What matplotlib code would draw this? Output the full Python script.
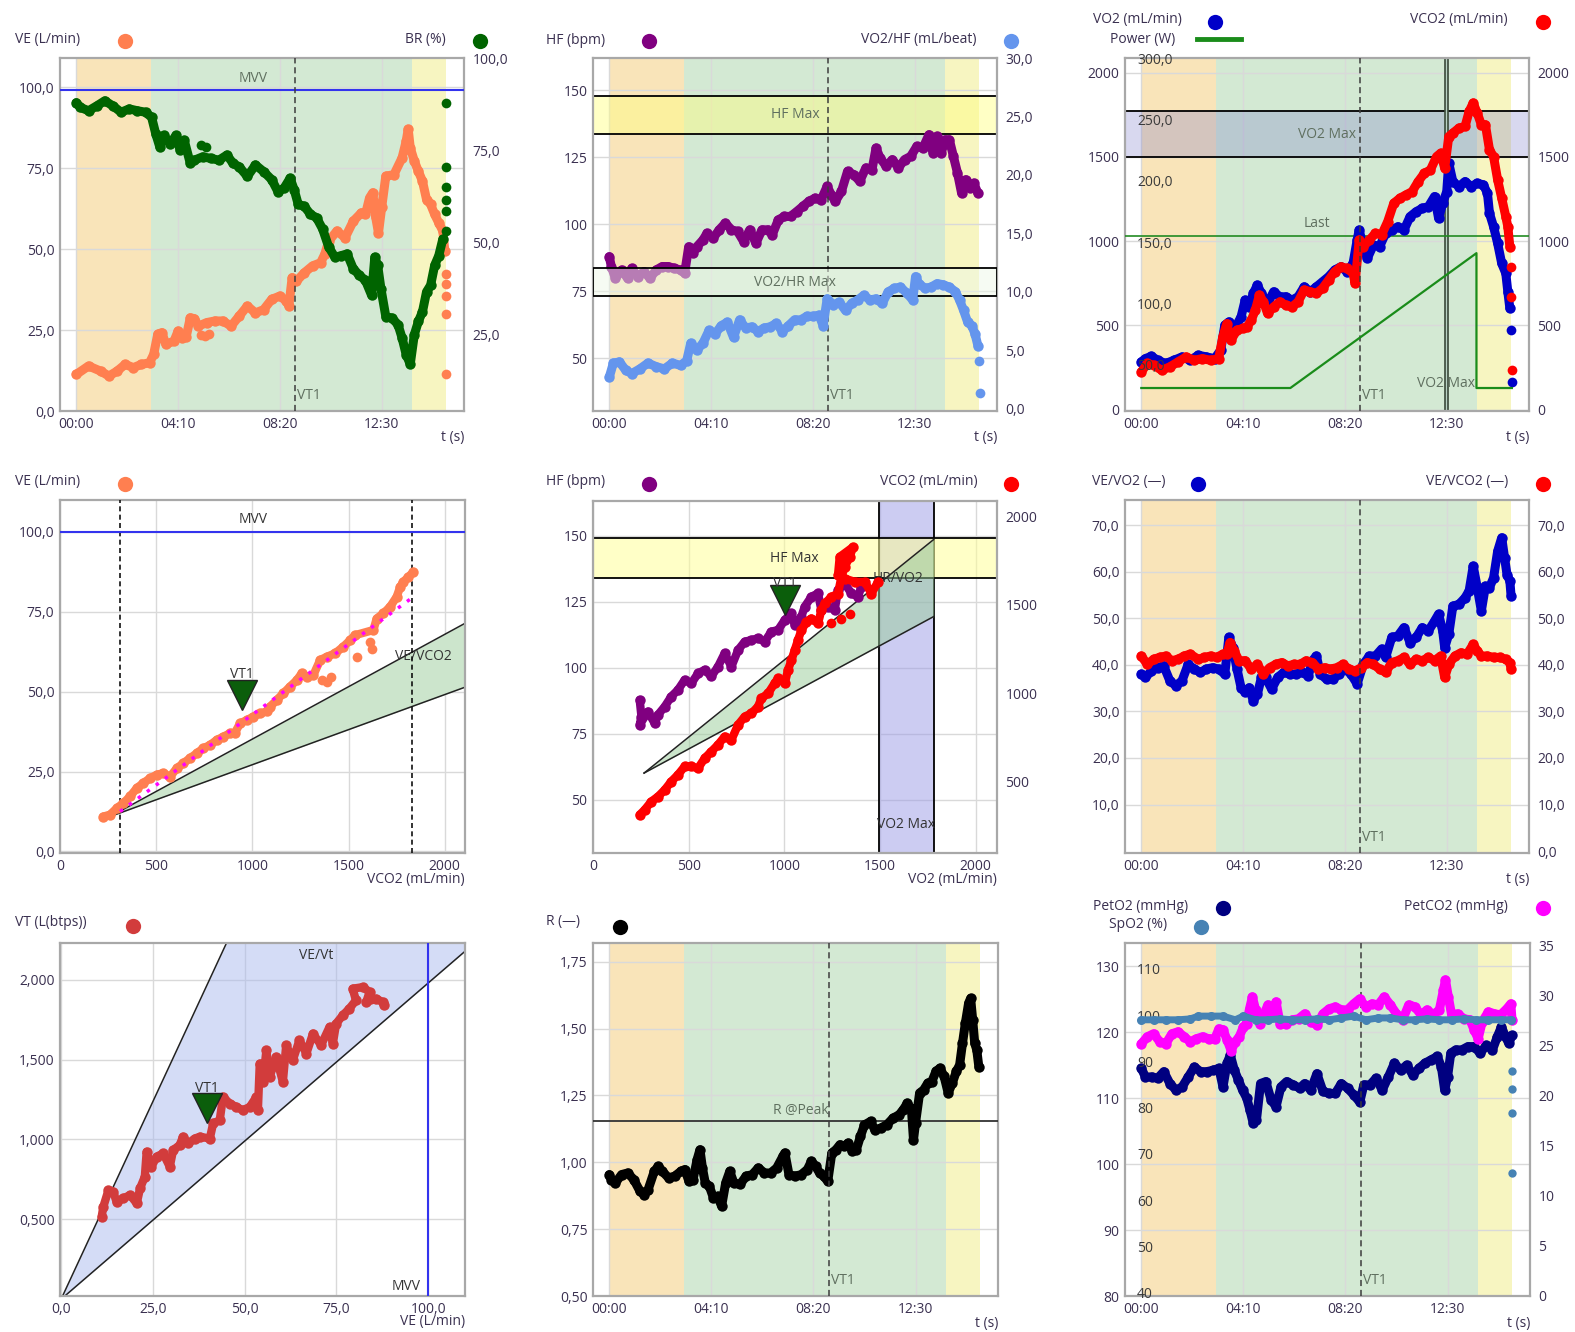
import matplotlib
matplotlib.use('Agg')
import matplotlib.pyplot as plt
from matplotlib.lines import Line2D
from matplotlib.colors import to_rgba
from matplotlib.transforms import blended_transform_factory

plt.rcParams['font.family'] = ['Open Sans', 'DejaVu Sans']

# ---------------------------------------------------------------- data
time_ticks = [0, 250, 500, 750]
time_labels = ['00:00', '04:10', '08:20', '12:30']
phase_spans = [(0, 184), (184, 825), (825, 908)]
phase_colors = ['#f9e4b9', '#d3e9d3', '#f7f5c1']
vt1_time = 537
mvv = 99.0

# panel 1: VE (L/min) and BR (%)
ve_pts = [(0, 11.3), (30, 13.9), (60, 12.3), (80, 10.8), (100, 12.3), (120, 14.4), (140, 13.4),
          (160, 14.4), (180, 14.9), (190, 17.5), (200, 23.7), (210, 24.2), (220, 20.6), (240, 21.6),
          (250, 24.7), (260, 22.6), (270, 23.0), (280, 28.8), (290, 28.5), (300, 26.2), (320, 27.3),
          (340, 27.8), (360, 27.8), (380, 26.2), (400, 29.3), (420, 32.4), (440, 30.3), (460, 31.3),
          (480, 34.5), (500, 35.5), (515, 34.0), (522, 32.5), (530, 41.2), (540, 40.0), (560, 42.7),
          (580, 44.8), (600, 45.8), (610, 48.4), (620, 52.5), (640, 55.6), (660, 53.5), (680, 58.6),
          (700, 61.2), (710, 60.7), (720, 65.8), (728, 67.4), (735, 60.0), (742, 55.0), (750, 63.0),
          (760, 72.5), (780, 73.0), (800, 78.2), (810, 83.3), (815, 87.0), (820, 81.3), (830, 77.2),
          (840, 74.0), (850, 71.0), (860, 65.3), (870, 63.8), (880, 60.7), (890, 58.1), (900, 55.6),
          (905, 49.4)]
ve_extra = [(305, 23.5), (315, 23.2), (325, 23.7), (908, 42.2), (908, 39.1), (908, 35.5),
            (908, 29.8), (908, 11.3)]
br_pts = [(0, 87.9), (10, 86.6), (30, 85.7), (50, 87.0), (70, 88.4), (90, 87.0), (110, 85.3),
          (130, 86.2), (150, 85.7), (170, 85.3), (185, 83.9), (195, 79.5), (205, 75.9), (215, 79.0),
          (230, 76.8), (245, 79.0), (255, 75.0), (265, 77.7), (280, 71.4), (290, 72.3), (310, 73.2),
          (330, 72.8), (350, 72.3), (370, 73.7), (385, 71.4), (400, 70.5), (420, 67.9), (440, 71.0),
          (460, 69.2), (480, 67.0), (495, 63.8), (510, 64.7), (525, 67.4), (535, 64.3), (545, 60.3),
          (560, 59.8), (575, 57.6), (590, 56.7), (605, 53.6), (620, 48.7), (635, 46.0), (650, 46.4),
          (665, 46.9), (680, 42.9), (695, 41.1), (710, 39.7), (725, 35.7), (733, 46.0), (740, 43.8),
          (748, 37.5), (760, 29.9), (775, 29.5), (790, 27.7), (800, 24.1), (810, 19.6), (820, 17.0),
          (830, 25.0), (840, 28.6), (850, 31.2), (860, 36.6), (870, 38.4), (880, 43.8), (890, 46.4),
          (900, 50.9)]
br_extra = [(305, 76.3), (318, 76.0), (908, 53.1), (908, 58.5), (908, 61.6), (908, 65.0),
            (908, 70.4), (908, 87.9)]

# panel 2: HF (bpm) and VO2/HF (mL/beat)
hr_pts = [(0, 87.9), (5, 84.2), (15, 79.8), (30, 82.9), (45, 79.8), (55, 83.5), (70, 80.4),
          (85, 82.3), (100, 79.8), (115, 82.9), (130, 84.2), (145, 84.2), (160, 83.5), (175, 82.9),
          (185, 81.7), (195, 91.6), (205, 89.2), (215, 91.6), (230, 94.1), (240, 96.6), (255, 94.8),
          (270, 97.9), (285, 100.4), (300, 97.9), (315, 97.3), (330, 93.5), (345, 97.9), (360, 92.9),
          (375, 97.9), (390, 97.9), (400, 96.0), (415, 101.6), (430, 102.9), (445, 102.9),
          (460, 104.7), (475, 106.6), (490, 108.5), (505, 109.7), (520, 109.1), (535, 114.1),
          (545, 111.0), (555, 108.5), (570, 112.2), (585, 119.7), (600, 118.5), (615, 116.0),
          (630, 121.0), (645, 120.3), (655, 128.4), (665, 124.7), (680, 121.6), (695, 124.1),
          (710, 121.0), (725, 124.1), (740, 125.3), (755, 129.0), (770, 128.4), (785, 133.4),
          (795, 126.6), (805, 132.8), (815, 126.6), (825, 131.5), (835, 131.5), (845, 125.3),
          (855, 119.1), (865, 111.6), (875, 116.6), (885, 113.5), (895, 115.3), (905, 111.6)]
pulse_pts = [(0, 2.7), (10, 3.9), (25, 4.0), (40, 3.3), (55, 3.0), (75, 3.4), (95, 3.9), (115, 3.6),
             (135, 3.4), (155, 3.9), (175, 3.7), (190, 4.1), (200, 5.6), (215, 5.0), (230, 5.6),
             (245, 6.7), (260, 6.4), (275, 7.1), (290, 7.4), (305, 6.1), (320, 7.6), (335, 6.9),
             (350, 7.0), (365, 6.6), (380, 6.9), (395, 7.0), (410, 7.3), (425, 6.6), (440, 7.1),
             (455, 7.6), (470, 7.6), (485, 7.9), (500, 7.9), (515, 8.0), (525, 7.1), (535, 9.4),
             (550, 8.9), (565, 9.1), (580, 8.4), (595, 9.0), (610, 9.3), (625, 9.7), (640, 9.3),
             (655, 9.4), (670, 9.0), (685, 10.0), (700, 10.3), (715, 10.4), (730, 9.9), (745, 9.3),
             (752, 11.3), (760, 10.7), (775, 10.3), (790, 10.4), (805, 10.7), (820, 10.6),
             (835, 10.4), (850, 10.0), (860, 9.3), (870, 8.4), (880, 7.4), (890, 7.1), (898, 6.4),
             (905, 5.4)]
pulse_extra = [(908, 4.1), (910, 1.3)]
hf_max_band = (133.5, 147.8)
pulse_max_band = (9.6, 12.0)

# panel 3: VO2 / VCO2 (mL/min), power (W)
vo2_pts = [(0, 283), (10, 303), (25, 317), (40, 293), (60, 274), (80, 293), (100, 313), (120, 293),
           (140, 323), (160, 313), (180, 303), (195, 353), (205, 501), (215, 521), (230, 482),
           (245, 551), (255, 650), (265, 610), (275, 690), (285, 739), (295, 690), (310, 630),
           (325, 700), (340, 670), (355, 670), (370, 650), (385, 670), (400, 729), (415, 700),
           (430, 729), (445, 759), (460, 789), (475, 829), (490, 848), (505, 819), (520, 868),
           (530, 1007), (535, 1066), (545, 967), (555, 898), (570, 977), (585, 967), (600, 1047),
           (615, 1066), (630, 1086), (645, 1066), (660, 1146), (675, 1175), (690, 1195),
           (705, 1205), (720, 1265), (730, 1136), (740, 1225), (750, 1294), (755, 1463),
           (765, 1354), (780, 1324), (795, 1354), (810, 1324), (825, 1344), (840, 1334),
           (850, 1284), (855, 1165), (865, 1086), (875, 987), (885, 868), (895, 809), (900, 700),
           (905, 601)]
vo2_extra = [(908, 472), (910, 165)]
vco2_pts = [(0, 224), (15, 274), (30, 264), (50, 234), (70, 254), (90, 283), (110, 313), (130, 293),
            (150, 303), (170, 293), (190, 303), (200, 432), (210, 511), (220, 412), (235, 472),
            (250, 482), (260, 492), (270, 531), (280, 591), (290, 680), (300, 640), (310, 571),
            (325, 610), (340, 640), (355, 620), (370, 610), (385, 640), (400, 710), (415, 700),
            (430, 690), (445, 720), (460, 769), (475, 819), (490, 848), (505, 838), (520, 809),
            (525, 749), (535, 1007), (545, 967), (560, 1007), (575, 1047), (590, 1037),
            (605, 1116), (620, 1225), (635, 1255), (650, 1275), (665, 1294), (680, 1354),
            (695, 1403), (710, 1423), (725, 1502), (735, 1522), (745, 1433), (755, 1621),
            (765, 1641), (780, 1671), (795, 1681), (805, 1770), (815, 1820), (825, 1760),
            (835, 1691), (845, 1691), (855, 1542), (865, 1502), (875, 1364), (885, 1255),
            (895, 1146), (900, 1086), (905, 967)]
vco2_extra = [(907, 848), (908, 670), (910, 234)]
power_t = [0, 366, 823, 823, 910]
power_w = [30.6, 30.6, 140.9, 30.6, 30.6]
vo2_max_band = (1498, 1774)
vo2_last = 1033
vo2_max_time = (746, 753)

# panel 4: VE vs VCO2
vevco2_scatter = [(225, 10.9), (260, 11.5), (295, 13.5), (329, 15.1), (364, 17.2), (399, 19.8),
                  (433, 21.4), (468, 22.9), (503, 24.0), (537, 24.5), (572, 23.4), (607, 26.0),
                  (641, 27.6), (676, 29.2), (711, 30.7), (745, 32.3), (780, 33.3), (815, 34.9),
                  (849, 35.9), (884, 37.0), (910, 37.2), (936, 40.1), (971, 41.1), (1005, 42.2),
                  (1040, 43.2), (1075, 43.8), (1092, 45.3), (1127, 47.4), (1161, 49.5),
                  (1196, 51.6), (1231, 53.6), (1256, 55.7), (1282, 54.7), (1317, 55.2),
                  (1352, 59.9), (1386, 60.9), (1430, 62.0), (1473, 64.1), (1508, 66.1),
                  (1534, 67.7), (1629, 69.3), (1646, 72.9), (1681, 74.5), (1716, 76.6),
                  (1750, 79.7), (1768, 82.8), (1785, 84.4), (1811, 85.9), (1837, 87.5)]
vevco2_scatter_extra = [(1360, 53.6), (1390, 53.0), (1410, 54.5), (1542, 60.9), (1612, 65.6),
                        (1620, 63.5)]
vevco2_fit_x = [312, 1837]
vevco2_fit_y = [12.5, 79.7]
vevco2_ref_x = [260, 2105]
vevco2_ref_hi = [10.9, 71.4]
vevco2_ref_lo = [10.9, 51.4]
vco2_limits = [312, 1828]
vt1_p4 = (948, 49.0)

# panel 5: HF and VCO2 vs VO2
hr_vo2 = [(244, 87.8), (253, 81.5), (244, 78.4), (287, 83.4), (322, 79.0), (340, 82.2), (375, 85.3),
          (409, 89.1), (444, 91.6), (479, 95.4), (514, 94.1), (549, 97.9), (584, 99.2), (618, 96.7),
          (653, 100.4), (688, 105.5), (723, 100.4), (758, 106.7), (793, 109.9), (828, 110.5),
          (862, 111.2), (897, 109.9), (932, 113.7), (967, 114.3), (1002, 118.1), (1037, 120.6),
          (1054, 116.2), (1089, 119.4), (1106, 123.1), (1141, 126.9), (1176, 128.2),
          (1193, 121.9), (1228, 123.1), (1263, 121.9), (1280, 129.4), (1315, 132.0),
          (1350, 128.2), (1385, 126.9), (1402, 130.7)]
vco2_vo2 = [(244, 312), (270, 340), (305, 387), (340, 415), (375, 453), (409, 500), (444, 538),
            (479, 585), (514, 585), (549, 575), (584, 632), (618, 669), (653, 707), (688, 754),
            (723, 735), (758, 820), (793, 867), (828, 885), (862, 923), (880, 970), (915, 998),
            (949, 1055), (967, 1083), (1002, 1055), (1019, 1130), (1037, 1186), (1054, 1242),
            (1071, 1299), (1089, 1355), (1115, 1402), (1141, 1421), (1176, 1393), (1193, 1468),
            (1211, 1506), (1246, 1543), (1280, 1562), (1298, 1656), (1315, 1712), (1341, 1769),
            (1359, 1825), (1289, 1769), (1280, 1665), (1315, 1647), (1368, 1628), (1420, 1628),
            (1455, 1562), (1489, 1628)]
vco2_vo2_extra = [(1246, 1393), (1298, 1421), (1341, 1449)]
hrvo2_ref_x = [267, 1780]
hrvo2_ref_hi = [60.1, 148.6]
hrvo2_ref_lo = [60.1, 119.4]
hf_max_band_p5 = (133.9, 149.0)
vo2_max_span = (1495, 1780)
vt1_p5 = (1002, 125.7)

# panel 6: VE/VO2 and VE/VCO2
vevo2_pts = [(0, 38.0), (10, 37.3), (25, 38.7), (40, 39.4), (55, 39.8), (70, 36.6), (85, 35.5),
             (100, 36.6), (115, 40.1), (130, 39.1), (145, 38.4), (160, 39.1), (175, 39.4),
             (190, 39.1), (205, 38.0), (215, 45.9), (225, 43.7), (235, 39.1), (245, 35.1),
             (255, 34.1), (265, 35.1), (275, 32.3), (285, 33.7), (295, 37.3), (305, 37.3),
             (320, 34.8), (335, 37.3), (350, 38.4), (365, 38.0), (380, 38.0), (395, 38.4),
             (410, 37.6), (420, 40.9), (430, 41.9), (440, 38.0), (455, 36.9), (470, 36.9),
             (485, 38.0), (500, 39.1), (515, 38.0), (530, 35.9), (545, 40.1), (560, 41.9),
             (575, 41.9), (590, 43.4), (600, 41.6), (615, 45.9), (630, 46.2), (645, 48.0),
             (660, 44.8), (675, 45.9), (690, 48.0), (705, 47.3), (720, 49.4), (730, 50.9),
             (740, 47.3), (745, 43.7), (755, 46.6), (765, 52.6), (780, 53.0), (795, 54.4),
             (805, 55.9), (815, 61.2), (825, 56.6), (835, 51.6), (845, 56.9), (855, 56.6),
             (865, 58.7), (875, 64.4), (885, 67.3), (892, 63.0), (898, 59.4), (905, 58.0),
             (908, 54.8)]
vevco2_pts = [(0, 41.9), (15, 40.1), (30, 41.2), (45, 41.6), (60, 41.9), (75, 40.9), (90, 41.2),
              (105, 41.9), (120, 42.3), (140, 41.2), (155, 41.6), (170, 41.9), (185, 41.6),
              (200, 42.3), (210, 42.3), (218, 44.8), (228, 43.0), (240, 40.9), (255, 40.9),
              (270, 39.1), (285, 40.1), (300, 38.0), (315, 39.4), (330, 40.1), (345, 40.5),
              (360, 39.8), (375, 40.1), (390, 40.1), (405, 40.9), (420, 40.5), (435, 39.1),
              (450, 39.4), (465, 39.1), (480, 39.4), (495, 40.1), (510, 39.1), (525, 38.7),
              (540, 39.4), (555, 40.5), (570, 40.1), (585, 39.1), (600, 38.4), (615, 40.5),
              (630, 40.9), (645, 41.6), (660, 40.1), (675, 41.2), (690, 40.9), (705, 41.6),
              (720, 40.9), (735, 41.9), (745, 37.3), (755, 40.1), (770, 41.9), (785, 42.6),
              (800, 42.3), (815, 44.4), (825, 43.0), (835, 41.9), (850, 41.9), (865, 41.6),
              (880, 41.6), (895, 41.2), (905, 40.5), (908, 39.1)]

# panel 7: VT vs VE
vt_ve = [(11.05, 0.517), (11.5, 0.579), (12.9, 0.683), (14.2, 0.673), (15.1, 0.610), (16.9, 0.631),
         (18.8, 0.652), (20.6, 0.600), (21.5, 0.694), (22.8, 0.767), (23.3, 0.923), (24.6, 0.829),
         (26.0, 0.892), (27.8, 0.913), (29.6, 0.829), (30.5, 0.933), (32.3, 0.965), (33.2, 1.017),
         (34.6, 0.975), (36.4, 1.006), (37.8, 1.017), (40.5, 1.006), (41.4, 1.100), (43.2, 1.121),
         (44.1, 1.267), (45.9, 1.225), (47.7, 1.204), (49.5, 1.183), (51.4, 1.204), (53.2, 1.267),
         (53.6, 1.183), (54.1, 1.475), (55.0, 1.360), (55.9, 1.558), (56.8, 1.392), (58.6, 1.517),
         (60.4, 1.360), (61.3, 1.590), (63.1, 1.496), (64.9, 1.621), (66.8, 1.538), (68.6, 1.663),
         (70.8, 1.590), (73.1, 1.704), (74.0, 1.600), (74.9, 1.725), (76.7, 1.777), (78.5, 1.819),
         (80.3, 1.871), (79.4, 1.944), (82.2, 1.954), (84.0, 1.923), (83.1, 1.860), (85.8, 1.881),
         (87.6, 1.860), (88.0, 1.840)]
vevt_slope_hi = 0.0495
vevt_slope_lo = 0.0198
vevt_x = [0, 110]
vt1_p7 = (39.8, 1.20)

# panel 8: R
r_pts = [(0, 0.954), (5, 0.935), (15, 0.923), (30, 0.954), (45, 0.960), (60, 0.935), (75, 0.892),
         (85, 0.879), (95, 0.898), (110, 0.966), (120, 0.985), (130, 0.966), (145, 0.942),
         (160, 0.948), (175, 0.966), (185, 0.973), (195, 0.929), (205, 0.935), (215, 1.010),
         (222, 1.047), (228, 0.979), (235, 0.923), (245, 0.910), (255, 0.867), (265, 0.873),
         (275, 0.836), (285, 0.923), (295, 0.966), (305, 0.923), (320, 0.917), (335, 0.948),
         (350, 0.954), (365, 0.979), (380, 0.960), (395, 0.960), (410, 0.979), (425, 1.022),
         (430, 1.035), (440, 0.954), (455, 0.948), (470, 0.954), (485, 0.973), (495, 1.004),
         (505, 0.985), (515, 0.960), (525, 0.948), (535, 0.929), (545, 1.035), (555, 1.047),
         (565, 1.066), (575, 1.060), (585, 1.072), (595, 1.041), (605, 1.047), (615, 1.097),
         (625, 1.140), (640, 1.153), (650, 1.122), (665, 1.128), (680, 1.141), (695, 1.165),
         (710, 1.178), (720, 1.197), (730, 1.221), (740, 1.197), (745, 1.085), (750, 1.147),
         (760, 1.259), (770, 1.271), (780, 1.296), (790, 1.302), (800, 1.340), (810, 1.352),
         (820, 1.321), (830, 1.259), (840, 1.296), (850, 1.340), (858, 1.364), (865, 1.445),
         (872, 1.520), (880, 1.595), (885, 1.613), (890, 1.532), (895, 1.445), (900, 1.420),
         (905, 1.358)]
r_peak = 1.155

# panel 9: PetO2, SpO2, PetCO2
peto2_pts = [(0, 114.5), (10, 113.2), (25, 113.2), (40, 113.0), (55, 114.0), (70, 112.2),
             (85, 111.2), (100, 111.7), (115, 113.2), (130, 114.7), (145, 114.0), (160, 114.0),
             (175, 114.2), (190, 114.5), (200, 111.7), (210, 115.3), (218, 116.5), (228, 114.2),
             (238, 112.7), (248, 111.2), (258, 110.0), (266, 108.2), (274, 106.2), (282, 106.7),
             (292, 112.2), (305, 112.5), (318, 109.7), (330, 108.7), (342, 111.7), (356, 112.5),
             (372, 112.0), (388, 111.5), (400, 112.2), (415, 111.2), (430, 113.7), (445, 111.0),
             (460, 110.7), (475, 110.7), (490, 112.2), (505, 111.5), (520, 110.5), (535, 109.4),
             (545, 112.0), (560, 112.0), (575, 113.0), (590, 111.2), (605, 113.2), (620, 115.3),
             (635, 114.2), (650, 115.0), (665, 113.5), (680, 114.5), (695, 115.3), (710, 115.8),
             (725, 116.3), (735, 114.7), (743, 111.2), (750, 113.2), (758, 116.8), (770, 117.3),
             (785, 117.3), (800, 117.8), (815, 117.8), (830, 116.8), (845, 118.0), (860, 117.3),
             (872, 119.3), (882, 120.8), (892, 119.3), (900, 118.3), (908, 119.5)]
spo2_pts = [(0, 99.0), (30, 99.0), (60, 99.0), (90, 99.0), (120, 99.2), (140, 99.8), (170, 99.8),
            (200, 99.8), (230, 99.0), (250, 99.8), (280, 99.0), (310, 99.0), (340, 99.2),
            (370, 99.0), (400, 99.0), (430, 99.2), (460, 99.0), (490, 99.4), (520, 99.8),
            (550, 99.0), (580, 99.4), (610, 99.4), (640, 99.0), (670, 99.0), (700, 99.2),
            (730, 99.0), (760, 99.0), (790, 99.2), (820, 99.0), (850, 99.0), (880, 99.0),
            (905, 99.0)]
spo2_extra = [(908, 87.9), (908, 84.0), (908, 78.9), (909, 65.8)]
petco2_pts = [(0, 25.2), (15, 25.9), (30, 26.2), (45, 25.4), (60, 25.2), (75, 26.2), (90, 26.4),
              (105, 25.9), (120, 25.4), (135, 25.7), (150, 25.9), (165, 25.7), (180, 25.7),
              (190, 26.7), (200, 26.6), (210, 25.6), (220, 24.5), (230, 25.4), (240, 25.9),
              (250, 26.9), (258, 27.2), (265, 28.7), (272, 29.9), (280, 28.6), (290, 27.2),
              (300, 28.1), (310, 29.1), (320, 28.1), (330, 29.4), (340, 27.2), (355, 27.2),
              (370, 27.6), (385, 27.7), (400, 28.2), (415, 27.4), (430, 27.1), (445, 28.2),
              (460, 28.7), (475, 28.9), (490, 28.6), (505, 28.6), (520, 29.2), (535, 29.7),
              (550, 28.9), (565, 29.2), (580, 29.1), (595, 29.9), (610, 29.1), (625, 28.2),
              (640, 27.6), (655, 29.1), (670, 28.9), (685, 28.1), (700, 28.6), (715, 28.1),
              (730, 28.6), (740, 30.6), (745, 31.6), (752, 29.9), (760, 28.1), (775, 28.2),
              (790, 27.7), (805, 27.6), (815, 26.6), (825, 25.7), (835, 27.4), (850, 28.4),
              (865, 28.2), (880, 28.1), (895, 28.7), (905, 29.2), (908, 27.6)]

# ---------------------------------------------------------------- styling
W, H = 1575, 1332
FRAME = '#a8a8a8'
GRID = '#d9d9d9'
TXT = '#3a3050'
NOTE = '#5f6f5f'
FS = 10
MS = 7.5     # dot size of the data bands
LW = 6.5     # line joining the dots

fig = plt.figure(figsize=(W / 100, H / 100), dpi=100)


def rect(l, t, r, b):
    return [l / W, 1 - b / H, (r - l) / W, (b - t) / H]


def base_style(ax):
    ax.set_axisbelow(True)
    for s in ax.spines.values():
        s.set_color(FRAME)
        s.set_linewidth(1.6)
    ax.tick_params(length=0, labelsize=FS, labelcolor=TXT, pad=4)
    ax.grid(True, color=GRID, lw=1)


def twin_axis(ax, ylim, ticks, labels, inner=False):
    tw = ax.twinx()
    tw.set_ylim(*ylim)
    tw.set_yticks(ticks)
    tw.set_yticklabels(labels)
    for s in tw.spines.values():
        s.set_visible(False)
    tw.tick_params(length=0, labelsize=FS, labelcolor=TXT, pad=6)
    if inner:
        tw.spines['right'].set_position(('axes', 0.03))
        tw.tick_params(pad=0, labelcolor='#3a3a3a')
    return tw


def set_y(ax, ylim, ticks, labels):
    ax.set_ylim(*ylim)
    ax.set_yticks(ticks)
    ax.set_yticklabels(labels)


def time_panel(box):
    ax = fig.add_axes(rect(*box))
    base_style(ax)
    ax.set_xlim(-40, 952)
    ax.set_xticks(time_ticks)
    ax.set_xticklabels(time_labels)
    for (a, b), c in zip(phase_spans, phase_colors):
        ax.axvspan(a, b, color=c, lw=0, zorder=0)
    ax.axvline(vt1_time, color='#3c3c3c', lw=1.1, ls=(0, (4, 2.5)), zorder=6)
    tr = blended_transform_factory(ax.transData, ax.transAxes)
    ax.text(vt1_time + 6, 0.035, 'VT1', transform=tr, color=NOTE, fontsize=FS, zorder=6)
    fig.text(box[2] / W, 1 - (box[3] + 27) / H, 't (s)', ha='right', va='center',
             fontsize=FS, color=TXT)
    return ax


def series(ax, pts, color, extra=None, ms=MS, lw=LW, z=4):
    x, y = zip(*pts)
    ax.plot(x, y, '-o', color=color, ms=ms, lw=lw, mew=0, zorder=z,
            solid_joinstyle='round', solid_capstyle='round')
    if extra:
        ex, ey = zip(*extra)
        ax.plot(ex, ey, 'o', color=color, ms=ms - 0.5, mew=0, zorder=z)


def head(x, y, text, ha='left'):
    fig.text(x / W, 1 - y / H, text, ha=ha, va='center', fontsize=FS, color=TXT)


def head_dot(x, y, color):
    fig.add_artist(Line2D([x / W], [1 - y / H], marker='o', ms=11, color=color, ls='none',
                          mew=0, transform=fig.transFigure))


def vt1_marker(ax, pos, dy):
    ax.plot([pos[0]], [pos[1]], marker='v', ms=22, mfc='#0b5e0b', mec='#222222', mew=1,
            ls='none', zorder=8)
    ax.text(pos[0], pos[1] + dy, 'VT1', ha='center', va='bottom', fontsize=FS, color='#333333',
            zorder=8)


def fmt(vals, dec):
    return [('%.*f' % (dec, v)).replace('.', ',') for v in vals]


# ---------------------------------------------------------------- panel 1
ax1 = time_panel((60, 58, 464, 411))
set_y(ax1, (0, 109), [0, 25, 50, 75, 100], fmt([0, 25, 50, 75, 100], 1))
ax1.axhline(mvv, color='#3333ee', lw=1.5, zorder=5)
ax1.text(434, mvv + 1.5, 'MVV', ha='center', va='bottom', fontsize=FS, color=NOTE)
series(ax1, ve_pts, '#ff7f50', ve_extra)
ax1b = twin_axis(ax1, (4.3, 100), [25, 50, 75, 100], fmt([25, 50, 75, 100], 1))
series(ax1b, br_pts, '#006400', br_extra)
head(15, 40, 'VE (L/min)')
head_dot(125, 41, '#ff7f50')
head(446, 40, 'BR (%)', ha='right')
head_dot(480, 41, '#006400')

# ---------------------------------------------------------------- panel 2
ax2 = time_panel((593, 58, 997, 411))
set_y(ax2, (30.3, 162), [50, 75, 100, 125, 150], ['50', '75', '100', '125', '150'])
ax2.axhspan(*hf_max_band, facecolor=to_rgba('#ffff80', 0.45), edgecolor='black', lw=1.3, zorder=1)
ax2.text(457, 140.9, 'HF Max', ha='center', va='center', fontsize=FS, color=NOTE, zorder=2)
series(ax2, hr_pts, '#800080')
ax2b = twin_axis(ax2, (-0.2, 30), [0, 5, 10, 15, 20, 25, 30], fmt([0, 5, 10, 15, 20, 25, 30], 1))
ax2b.axhspan(*pulse_max_band, facecolor=to_rgba('#eef8e8', 0.5), edgecolor='black', lw=1.3,
             zorder=1)
ax2b.text(457, 10.8, 'VO2/HR Max', ha='center', va='center', fontsize=FS, color=NOTE, zorder=2)
series(ax2b, pulse_pts, '#6495ed', pulse_extra)
head(546, 40, 'HF (bpm)')
head_dot(649, 41, '#800080')
head(977, 40, 'VO2/HF (mL/beat)', ha='right')
head_dot(1011, 41, '#6495ed')

# ---------------------------------------------------------------- panel 3
ax3 = time_panel((1125, 58, 1529, 411))
vo2_ticks = [0, 500, 1000, 1500, 2000]
set_y(ax3, (-8, 2087), vo2_ticks, [str(v) for v in vo2_ticks])
ax3.axhspan(*vo2_max_band, facecolor=to_rgba('#8080cc', 0.3), edgecolor='black', lw=1.3, zorder=1)
ax3.text(456, 1631, 'VO2 Max', ha='center', va='center', fontsize=FS, color=NOTE, zorder=2)
ax3.axvspan(*vo2_max_time, facecolor='#b9d2c4', edgecolor='#3a4a3a', lw=1.2, zorder=2)
ax3.text(748, 155, 'VO2 Max', ha='center', va='center', fontsize=FS, color=NOTE, zorder=2)
ax3.axhline(vo2_last, color='#228b22', lw=1.2, zorder=3)
ax3.text(432, vo2_last + 25, 'Last', ha='center', va='bottom', fontsize=FS, color=NOTE)
series(ax3, vo2_pts, '#0000c8', vo2_extra)
series(ax3, vco2_pts, '#ff0000', vco2_extra)
twin_axis(ax3, (-8, 2087), vo2_ticks, [str(v) for v in vo2_ticks])
pw_ticks = [50, 100, 150, 200, 250, 300]
ax3p = twin_axis(ax3, (11.8, 300.5), pw_ticks, fmt(pw_ticks, 1), inner=True)
ax3p.plot(power_t, power_w, color='#1a8c1a', lw=1.6, zorder=3)
head(1182, 20, 'VO2 (mL/min)', ha='right')
head_dot(1215, 22, '#0000c8')
head(1175, 39, 'Power (W)', ha='right')
fig.add_artist(Line2D([1197 / W, 1241 / W], [1 - 39 / H, 1 - 39 / H], lw=3.5, color='#1a8c1a',
                      transform=fig.transFigure))
head(1508, 20, 'VCO2 (mL/min)', ha='right')
head_dot(1543, 22, '#ff0000')

# ---------------------------------------------------------------- panel 4
ax4 = fig.add_axes(rect(60, 500, 465, 853))
base_style(ax4)
ax4.set_xlim(0, 2105)
ax4.set_xticks([0, 500, 1000, 1500, 2000])
set_y(ax4, (-0.5, 110), [0, 25, 50, 75, 100], fmt([0, 25, 50, 75, 100], 1))
ax4.fill_between(vevco2_ref_x, vevco2_ref_lo, vevco2_ref_hi, color='#cce5cc', lw=0, zorder=1)
ax4.plot(vevco2_ref_x, vevco2_ref_hi, color='#222222', lw=1.1, zorder=2)
ax4.plot(vevco2_ref_x, vevco2_ref_lo, color='#222222', lw=1.1, zorder=2)
ax4.text(1889, 61, 'VE/VCO2', ha='center', va='center', fontsize=FS, color='#333333', zorder=3)
for xv in vco2_limits:
    ax4.axvline(xv, color='#111111', lw=1.2, ls=(0, (3, 2)), zorder=3)
ax4.axhline(mvv + 1, color='#3333ee', lw=1.5, zorder=3)
ax4.text(1005, mvv + 2.5, 'MVV', ha='center', va='bottom', fontsize=FS, color='#333333')
series(ax4, vevco2_scatter, '#ff7f50', vevco2_scatter_extra, ms=7.5, lw=6)
ax4.plot(vevco2_fit_x, vevco2_fit_y, color='#ff00ff', lw=2.5, ls=(0, (1, 2.2)), zorder=5)
vt1_marker(ax4, vt1_p4, 4)
fig.text(465 / W, 1 - 879 / H, 'VCO2 (mL/min)', ha='right', va='center', fontsize=FS, color=TXT)
head(15, 481, 'VE (L/min)')
head_dot(125, 484, '#ff7f50')

# ---------------------------------------------------------------- panel 5
ax5 = fig.add_axes(rect(593, 501, 997, 853))
base_style(ax5)
ax5.set_xlim(0, 2111)
ax5.set_xticks([0, 500, 1000, 1500, 2000])
set_y(ax5, (29.8, 163.2), [50, 75, 100, 125, 150], ['50', '75', '100', '125', '150'])
ax5.axvspan(*vo2_max_span, facecolor=to_rgba('#9a9ae6', 0.5), edgecolor='black', lw=1.3, zorder=1)
ax5.axhspan(*hf_max_band_p5, facecolor=to_rgba('#ffff99', 0.55), edgecolor='black', lw=1.3,
            zorder=1)
ax5.fill_between(hrvo2_ref_x, hrvo2_ref_lo, hrvo2_ref_hi, color=to_rgba('#99cc99', 0.5), lw=0,
                 zorder=2)
ax5.plot(hrvo2_ref_x, hrvo2_ref_hi, color='#222222', lw=1.1, zorder=2)
ax5.plot(hrvo2_ref_x, hrvo2_ref_lo, color='#222222', lw=1.1, zorder=2)
ax5.text(1054, 141.4, 'HF Max', ha='center', va='center', fontsize=FS, color='#333333', zorder=3)
ax5.text(1594, 133.9, 'HR/VO2', ha='center', va='center', fontsize=FS, color='#333333', zorder=3)
ax5.text(1637, 40.5, 'VO2 Max', ha='center', va='center', fontsize=FS, color='#333333', zorder=3)
series(ax5, hr_vo2, '#800080', ms=7.5, lw=6)
vt1_marker(ax5, vt1_p5, 3.5)
ax5b = twin_axis(ax5, (96, 2085), [500, 1000, 1500, 2000], ['500', '1000', '1500', '2000'])
series(ax5b, vco2_vo2, '#ff0000', vco2_vo2_extra, ms=7.5, lw=6)
fig.text(997 / W, 1 - 879 / H, 'VO2 (mL/min)', ha='right', va='center', fontsize=FS, color=TXT)
head(546, 481, 'HF (bpm)')
head_dot(649, 484, '#800080')
head(978, 481, 'VCO2 (mL/min)', ha='right')
head_dot(1011, 484, '#ff0000')

# ---------------------------------------------------------------- panel 6
ax6 = time_panel((1125, 500, 1529, 853))
eq_ticks = [10, 20, 30, 40, 50, 60, 70]
set_y(ax6, (-0.4, 75.4), eq_ticks, fmt(eq_ticks, 1))
series(ax6, vevo2_pts, '#0000c8')
series(ax6, vevco2_pts, '#ff0000')
twin_axis(ax6, (-0.4, 75.4), [0] + eq_ticks, fmt([0] + eq_ticks, 1))
head(1165, 481, 'VE/VO2 (—)', ha='right')
head_dot(1198, 484, '#0000c8')
head(1508, 481, 'VE/VCO2 (—)', ha='right')
head_dot(1543, 484, '#ff0000')

# ---------------------------------------------------------------- panel 7
ax7 = fig.add_axes(rect(60, 943, 465, 1296))
base_style(ax7)
ax7.set_xlim(-0.3, 110)
ax7.set_xticks([0, 25, 50, 75, 100])
ax7.set_xticklabels(fmt([0, 25, 50, 75, 100], 1))
set_y(ax7, (0.02, 2.23), [0.5, 1.0, 1.5, 2.0], fmt([0.5, 1.0, 1.5, 2.0], 3))
hi = [vevt_slope_hi * v for v in vevt_x]
lo = [vevt_slope_lo * v for v in vevt_x]
ax7.fill_between(vevt_x, lo, hi, color=to_rgba('#aabbee', 0.5), lw=0, zorder=1)
ax7.plot(vevt_x, hi, color='#222222', lw=1.1, zorder=2)
ax7.plot(vevt_x, lo, color='#222222', lw=1.1, zorder=2)
ax7.text(69.5, 2.15, 'VE/Vt', ha='center', va='center', fontsize=FS, color='#333333', zorder=3)
ax7.axvline(mvv + 1, color='#3333ee', lw=1.5, zorder=3)
ax7.text(94, 0.08, 'MVV', ha='center', va='center', fontsize=FS, color='#333333', zorder=3)
series(ax7, vt_ve, '#d23c3c', ms=7.5, lw=6)
vt1_marker(ax7, vt1_p7, 0.07)
fig.text(465 / W, 1 - 1322 / H, 'VE (L/min)', ha='right', va='center', fontsize=FS, color=TXT)
head(15, 922, 'VT (L(btps))')
head_dot(133, 926, '#d23c3c')

# ---------------------------------------------------------------- panel 8
ax8 = time_panel((593, 943, 998, 1296))
r_ticks = [0.5, 0.75, 1.0, 1.25, 1.5, 1.75]
set_y(ax8, (0.5, 1.82), r_ticks, fmt(r_ticks, 2))
ax8.axhline(r_peak, color='#333333', lw=1.3, zorder=3)
ax8.text(469, r_peak + 0.01, 'R @Peak', ha='center', va='bottom', fontsize=FS, color=NOTE, zorder=3)
series(ax8, r_pts, '#000000')
head(546, 922, 'R (—)')
head_dot(620, 927, '#000000')

# ---------------------------------------------------------------- panel 9
ax9 = time_panel((1125, 943, 1530, 1296))
set_y(ax9, (80, 133.5), [80, 90, 100, 110, 120, 130], ['80', '90', '100', '110', '120', '130'])
series(ax9, peto2_pts, '#000080')
ax9c = twin_axis(ax9, (-0.1, 35.3), [0, 5, 10, 15, 20, 25, 30, 35],
                 ['0', '5', '10', '15', '20', '25', '30', '35'])
series(ax9c, petco2_pts, '#ff00ff')
ax9b = twin_axis(ax9, (39.3, 115.6), [40, 50, 60, 70, 80, 90, 100, 110],
                 ['40', '50', '60', '70', '80', '90', '100', '110'], inner=True)
series(ax9b, spo2_pts, '#4682b4', spo2_extra, ms=6.5, lw=5)
head(1188, 906, 'PetO2 (mmHg)', ha='right')
head_dot(1223, 908, '#000080')
head(1167, 925, 'SpO2 (%)', ha='right')
head_dot(1201, 927, '#4682b4')
head(1508, 906, 'PetCO2 (mmHg)', ha='right')
head_dot(1543, 908, '#ff00ff')

fig.savefig('out.png', dpi=100)
